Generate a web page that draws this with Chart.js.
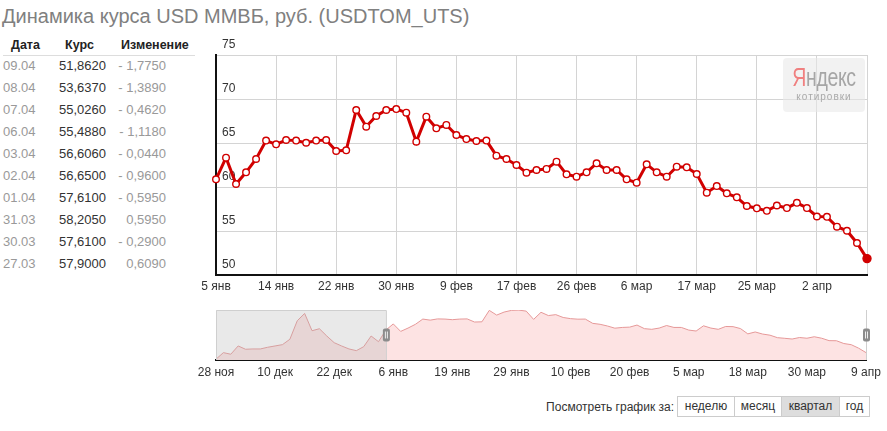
<!DOCTYPE html>
<html><head><meta charset="utf-8">
<script src="https://cdn.jsdelivr.net/npm/chart.js@4.4.1/dist/chart.umd.min.js"></script>
<style>
html,body{margin:0;padding:0}
body{width:887px;height:431px;background:#fff;font-family:"Liberation Sans",Arial,sans-serif;position:relative;overflow:hidden}
#title{position:absolute;left:2px;top:4px;font-size:20px;color:#808080;white-space:nowrap;line-height:24px}
.cell{position:absolute;font-size:13px;line-height:22px;white-space:pre}
.hd{font-weight:bold;color:#222;font-size:12.5px}
#hline{position:absolute;left:3px;top:55px;width:192px;height:1px;background:#ddd}
#mainWrap{position:absolute;left:200px;top:30px;width:687px;height:270px}
#navWrap{position:absolute;left:186px;top:300px;width:701px;height:85px}
#ya{position:absolute;left:783px;top:58px;width:82px;height:54px;background:rgba(232,232,232,0.55);border-radius:4px;text-align:center}
#ya .n{position:absolute;left:0;top:5px;width:82px;font-size:25px;line-height:28px;color:#a6a6a6;transform:scaleX(0.78);letter-spacing:-0.5px}
#ya .n b{font-weight:normal;color:#f08080}
#ya .k{position:absolute;left:0;top:33px;width:82px;font-size:10px;line-height:12px;color:#aaa;letter-spacing:1px}
#look{position:absolute;left:500px;top:397px;width:174px;text-align:right;font-size:12px;line-height:20px;color:#333}
#btns{position:absolute;left:677px;top:396px;height:21px;display:flex;border:1px solid #ccc;box-sizing:border-box}
#btns div{font-size:12px;line-height:19px;color:#333;text-align:center;border-left:1px solid #ccc;box-sizing:border-box}
#btns div:first-child{border-left:none}
#btns .on{background:#ddd}
</style>
</head><body>
<div id="title">Динамика курса USD ММВБ, руб. (USDTOM_UTS)</div>
<div id="table"></div>
<div id="hline"></div>
<div id="mainWrap"><canvas id="main"></canvas></div>
<div id="ya"><div class="n"><b>Я</b>ндекс</div><div class="k">котировки</div></div>
<div id="navWrap"><canvas id="nav"></canvas></div>
<div id="look">Посмотреть график за:</div>
<div id="btns"><div style="width:56px">неделю</div><div style="width:47px">месяц</div><div class="on" style="width:58px">квартал</div><div style="width:30px">год</div></div>
<script>
// ---- data ----
const tableDates   = ["09.04","08.04","07.04","06.04","03.04","02.04","01.04","31.03","30.03","27.03"];
const tableRates   = [51.8620,53.6370,55.0260,55.4880,56.6060,56.6500,57.6100,58.2050,57.6100,57.9000];
const tableChanges = [-1.7750,-1.3890,-0.4620,-1.1180,-0.0440,-0.9600,-0.5950,0.5950,-0.2900,0.6090];

const dates = ["5 янв","6 янв","8 янв","9 янв","12 янв","13 янв","14 янв","15 янв","16 янв","19 янв",
  "20 янв","21 янв","22 янв","23 янв","26 янв","27 янв","28 янв","29 янв","30 янв","2 фев",
  "3 фев","4 фев","5 фев","6 фев","9 фев","10 фев","11 фев","12 фев","13 фев","16 фев",
  "17 фев","18 фев","19 фев","20 фев","24 фев","25 фев","26 фев","27 фев","2 мар","3 мар",
  "4 мар","5 мар","6 мар","10 мар","11 мар","12 мар","13 мар","16 мар","17 мар","18 мар",
  "19 мар","20 мар","23 мар","24 мар","25 мар","26 мар","27 мар","30 мар","31 мар","1 апр",
  "2 апр","3 апр","6 апр","7 апр","8 апр","9 апр"];
const values = [60.87,63.33,60.34,61.67,63.18,65.27,64.85,65.34,65.27,65.03,
  65.27,65.34,64.09,64.17,68.75,66.86,68.07,68.75,68.86,68.45,
  65.15,67.99,66.67,67.05,65.91,65.45,65.23,65.27,63.56,63.18,
  62.50,61.63,61.93,62.05,62.88,61.44,61.17,61.67,62.69,61.93,
  61.93,60.87,60.49,62.58,61.67,61.17,62.31,62.24,61.48,59.36,
  60.11,59.28,58.83,57.84,57.58,57.29,57.90,57.61,58.205,57.61,
  56.65,56.606,55.488,55.026,53.637,51.862];

const preDates = ["28 ноя","1 дек","2 дек","3 дек","4 дек","5 дек","8 дек","9 дек","10 дек","11 дек",
  "12 дек","15 дек","16 дек","17 дек","18 дек","19 дек","22 дек","23 дек","24 дек","25 дек",
  "26 дек","29 дек","30 дек"];
const preValues = [49.22,51.85,51.21,54.52,53.20,53.32,53.32,54.00,54.52,55.05,
  57.20,64.60,67.53,60.61,61.41,58.50,55.83,54.52,53.32,52.64,
  54.24,58.50,56.23];

const yTicksMin = 50, yTicksMax = 75, yStep = 5;
const mainTickEvery = 6, navTickEvery = 8;

// ---- table ----
const fmt = v => Math.abs(v).toFixed(4).replace('.', ',');
const tbl = document.getElementById('table');
function cell(txt, left, top, cls, align, color, width){
  const d = document.createElement('div');
  d.className = 'cell ' + (cls||'');
  d.textContent = txt;
  d.style.top = top + 'px';
  if (align === 'right') { d.style.left = (left - width) + 'px'; d.style.width = width + 'px'; d.style.textAlign = 'right'; }
  else d.style.left = left + 'px';
  if (color) d.style.color = color;
  tbl.appendChild(d);
}
cell('Дата', 11, 34, 'hd');
cell('Курс', 65, 34, 'hd');
cell('Изменение', 121, 34, 'hd');
tableDates.forEach((d, i) => {
  const top = 55 + i * 22;
  cell(d, 3, top, '', 'left', '#999');
  cell(fmt(tableRates[i]), 106, top, '', 'right', '#333', 60);
  const c = tableChanges[i];
  cell((c < 0 ? '- ' : '') + fmt(c), 166, top, '', 'right', '#999', 60);
});

// ---- main chart ----
const RED = '#d10000';
const last = values.length - 1;
new Chart(document.getElementById('main'), {
  type: 'line',
  data: { labels: dates, datasets: [{
    data: values,
    borderColor: RED, borderWidth: 3, tension: 0,
    pointRadius: c => c.dataIndex === last ? 4 : 3.3,
    pointBackgroundColor: c => c.dataIndex === last ? RED : '#fff',
    pointBorderColor: RED, pointBorderWidth: 1.4
  }]},
  options: {
    responsive: true, maintainAspectRatio: false, animation: false, events: [],
    layout: { padding: { left: 16, right: 20, top: 25, bottom: 0 } },
    plugins: { legend: { display: false }, tooltip: { enabled: false } },
    scales: {
      x: {
        type: 'category',
        grid: { drawTicks: false, lineWidth: 1,
          color: c => (c.index % mainTickEvery === 0 || c.index === last) ? '#d4d4d4' : 'rgba(0,0,0,0)' },
        border: { color: '#111', width: 2 },
        ticks: { autoSkip: false, maxRotation: 0, minRotation: 0, padding: 4, color: '#333',
          font: { family: 'Liberation Sans', size: 12 },
          callback: (v, i) => i % mainTickEvery === 0 && i !== last ? dates[i] : '' },
        afterFit: s => { s.height = 25; s.paddingLeft = 0; s.paddingRight = 0; }
      },
      y: {
        min: yTicksMin, max: yTicksMax,
        grid: { drawTicks: false, color: '#d4d4d4', lineWidth: 1 },
        border: { color: '#111', width: 2 },
        ticks: { stepSize: yStep, mirror: true, padding: 6, labelOffset: -10, color: '#333',
          font: { family: 'Liberation Sans', size: 12 } },
        afterFit: s => { s.width = 0; }
      }
    }
  }
});

// ---- navigator ----
const navLabels = preDates.concat(dates);
const navValues = preValues.concat(values);
const navOverlay = {
  id: 'navOverlay',
  afterDatasetsDraw(chart) {
    const ctx = chart.ctx, a = chart.chartArea, xs = chart.scales.x;
    const x1 = xs.getPixelForValue(preDates.length);
    ctx.save();
    ctx.fillStyle = 'rgba(175,175,175,0.28)';
    ctx.fillRect(a.left, a.top, x1 - a.left, a.bottom - a.top);
    ctx.strokeStyle = '#cfcfcf'; ctx.lineWidth = 1;
    ctx.beginPath();
    ctx.moveTo(a.left + 0.5, a.bottom); ctx.lineTo(a.left + 0.5, a.top + 0.5);
    ctx.lineTo(x1 + 0.5, a.top + 0.5); ctx.lineTo(x1 + 0.5, a.bottom);
    ctx.moveTo(a.right + 0.5, a.top); ctx.lineTo(a.right + 0.5, a.bottom);
    ctx.stroke();
    const cy = (a.top + a.bottom) / 2;
    [x1, a.right].forEach(x => {
      ctx.fillStyle = '#8c8c8c';
      ctx.beginPath();
      if (ctx.roundRect) ctx.roundRect(x - 3, cy - 6.5, 7, 13, 2); else ctx.rect(x - 3, cy - 6.5, 7, 13);
      ctx.fill();
      ctx.strokeStyle = '#eee'; ctx.lineWidth = 1;
      ctx.beginPath();
      ctx.moveTo(x - 0.5, cy - 3.5); ctx.lineTo(x - 0.5, cy + 3.5);
      ctx.moveTo(x + 1.5, cy - 3.5); ctx.lineTo(x + 1.5, cy + 3.5);
      ctx.stroke();
    });
    ctx.restore();
  }
};
new Chart(document.getElementById('nav'), {
  type: 'line',
  data: { labels: navLabels, datasets: [{
    data: navValues, fill: 'start',
    backgroundColor: '#fde3e3', borderColor: '#e69999', borderWidth: 1,
    pointRadius: 0, tension: 0
  }]},
  options: {
    responsive: true, maintainAspectRatio: false, animation: false, events: [],
    layout: { padding: { left: 30, right: 21, top: 10, bottom: 0 } },
    plugins: { legend: { display: false }, tooltip: { enabled: false } },
    scales: {
      x: {
        type: 'category',
        grid: { display: false, drawTicks: false },
        border: { color: '#111', width: 2 },
        ticks: { autoSkip: false, maxRotation: 0, minRotation: 0, padding: 5, color: '#333',
          font: { family: 'Liberation Sans', size: 12 },
          callback: (v, i) => i % navTickEvery === 0 ? navLabels[i] : '' },
        afterFit: s => { s.height = 25; s.paddingLeft = 0; s.paddingRight = 0; }
      },
      y: { display: false, min: 48.9, max: 68.9 }
    }
  },
  plugins: [navOverlay]
});
</script>
</body></html>
